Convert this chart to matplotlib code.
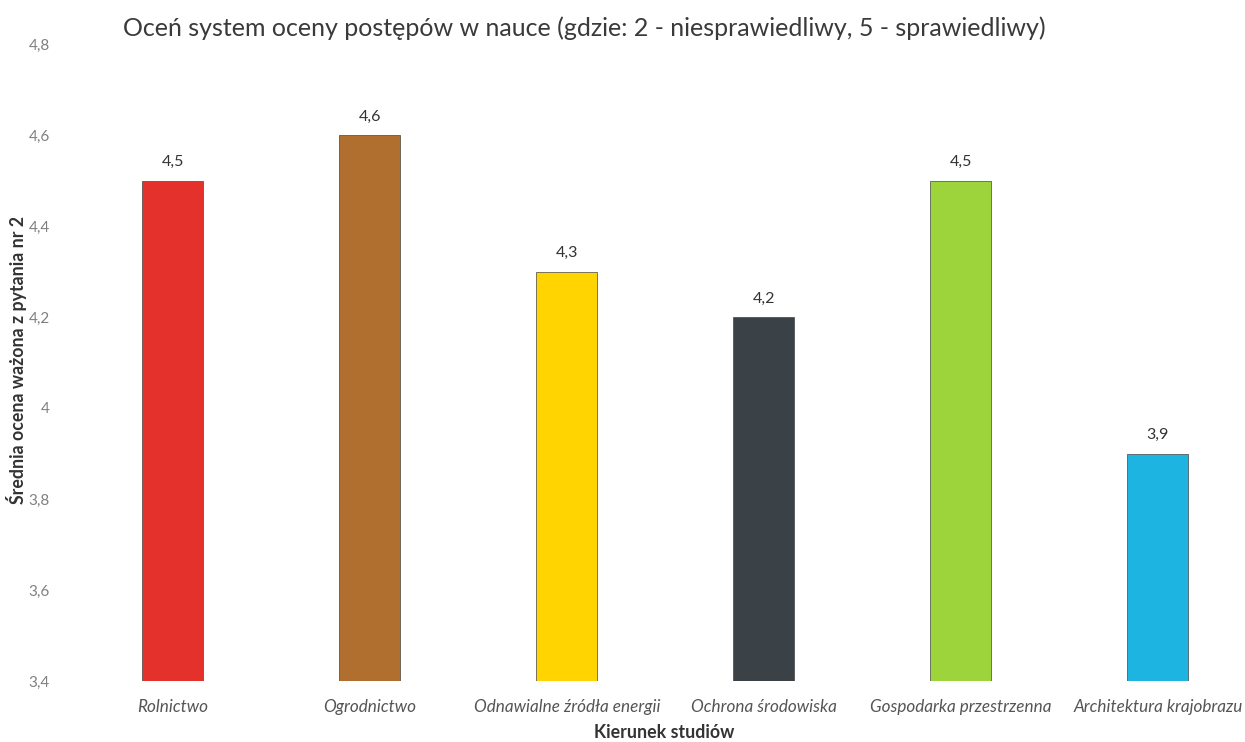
import matplotlib
matplotlib.use("Agg")
import matplotlib.pyplot as plt
from matplotlib.ticker import FuncFormatter

kierunki = ["Rolnictwo", "Ogrodnictwo", "Odnawialne źródła energii",
            "Ochrona środowiska", "Gospodarka przestrzenna", "Architektura krajobrazu"]
oceny = [4.5, 4.6, 4.3, 4.2, 4.5, 3.9]
kolory = ["#e5312b", "#b06f2f", "#ffd400", "#3b4247", "#9dd43c", "#1db4e2"]
y_ticks = [3.4, 3.6, 3.8, 4.0, 4.2, 4.4, 4.6, 4.8]

plt.rcParams["font.family"] = ["Lato", "DejaVu Sans"]

fig = plt.figure(figsize=(12.45, 7.42), dpi=100)
ax = fig.add_axes([75 / 1245, 1 - 681 / 742, 1170 / 1245, 637 / 742])

x = list(range(len(kierunki)))
ax.bar(x, oceny, width=0.31, color=kolory, edgecolor="#444444", linewidth=0.5, zorder=2)
for xi, v in zip(x, oceny):
    ax.text(xi, v + 0.025, f"{v:.1f}".replace(".", ","), ha="center", va="bottom",
            fontsize=11.5, color="#333333")

ax.set_xlim(-0.497, 5.442)
ax.set_ylim(3.4, 4.8)
ax.set_yticks(y_ticks)
ax.yaxis.set_major_formatter(FuncFormatter(
    lambda v, _: ("4" if abs(v - 4) < 1e-9 else f"{v:.1f}".replace(".", ","))))
ax.set_xticks(x)
ax.set_xticklabels(kierunki, fontstyle="italic", fontsize=12.3, color="#555555")
ax.tick_params(axis="y", labelsize=11, colors="#808080", length=0, pad=18)
ax.tick_params(axis="x", length=0, pad=13)
for s in ax.spines.values():
    s.set_visible(False)

fig.text(584 / 1245, 1 - 28 / 742, "Oceń system oceny postępów w nauce (gdzie: 2 - niesprawiedliwy, 5 - sprawiedliwy)",
         ha="center", va="center", fontsize=18, color="#3a3a3a")
fig.text(17 / 1245, 1 - 360 / 742, "Średnia ocena ważona z pytania nr 2", rotation=90,
         ha="center", va="center", fontsize=12.8, fontweight="bold", color="#333333")
fig.text(664 / 1245, 1 - 733 / 742, "Kierunek studiów", ha="center", va="center",
         fontsize=12.8, fontweight="bold", color="#333333")

fig.savefig("out.png", dpi=100)
